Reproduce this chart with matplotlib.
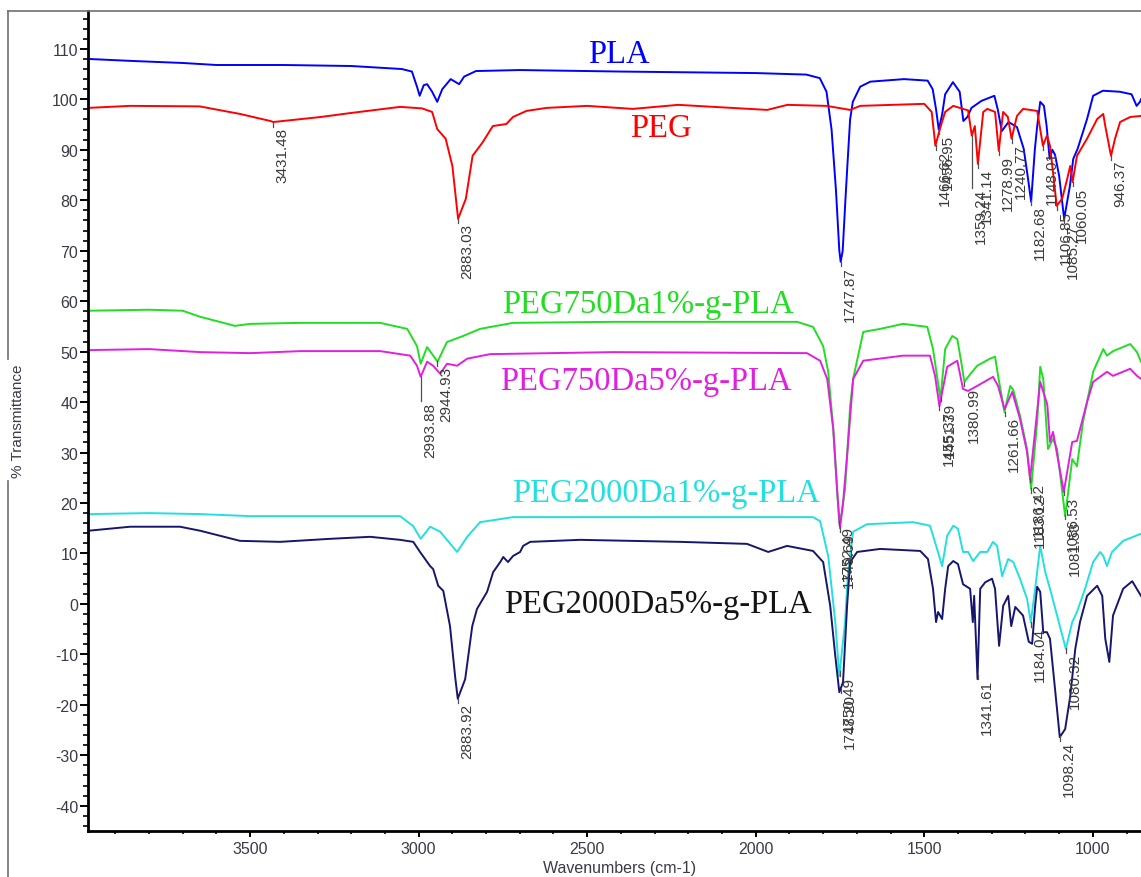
import numpy as np
import matplotlib
matplotlib.use("Agg")
import matplotlib.pyplot as plt
from matplotlib.ticker import MultipleLocator
from matplotlib.lines import Line2D
import matplotlib.transforms as mtrans

plt.rcParams["axes.unicode_minus"] = False

# ---------------- data (wavenumber cm-1, %T) ----------------
pla_wn = [3980, 3850, 3700, 3600, 3400, 3200, 3050, 3020, 3005, 2997, 2985, 2975, 2960, 2945, 2930,
          2905, 2880, 2865, 2830, 2700, 2400, 2000, 1850, 1810, 1790, 1775, 1762, 1752, 1748, 1742,
          1734, 1728, 1720, 1712, 1690, 1660, 1560, 1490, 1475, 1465, 1457, 1447, 1438, 1415, 1395,
          1384, 1372, 1360, 1330, 1292, 1282, 1270, 1250, 1225, 1205, 1192, 1183, 1172, 1165, 1156,
          1145, 1137, 1128, 1120, 1112, 1100, 1085, 1068, 1058, 1045, 1017, 999, 970, 920, 885, 870,
          860, 857]
pla_t = [108.0, 107.6, 107.2, 106.8, 106.8, 106.6, 106.0, 105.5, 102.5, 100.7, 102.8, 103.0, 101.5, 99.5,
         102.0, 104.0, 103.0, 104.5, 105.6, 105.8, 105.5, 105.2, 104.9, 104.2, 101.5, 94.0, 82.0, 70.0,
         67.8, 70.0, 80.0, 87.0, 96.0, 99.5, 102.5, 103.5, 104.0, 103.7, 102.0, 98.0, 94.0, 97.0, 101.0,
         103.4, 101.5, 95.7, 96.5, 98.3, 99.7, 100.7, 98.0, 93.7, 95.5, 94.5, 90.2, 84.2, 79.7, 90.0,
         94.7, 99.5, 98.7, 94.7, 88.2, 90.0, 89.0, 84.9, 76.3, 82.8, 88.2, 90.2, 96.1, 100.7, 101.7,
         101.5, 101.0, 98.7, 99.5, 100.0]

peg_wn = [3980, 3856, 3650, 3530, 3440, 3431, 3290, 3200, 3055, 2990, 2960, 2945, 2920, 2900, 2883,
          2860, 2840, 2810, 2780, 2740, 2720, 2680, 2620, 2500, 2365, 2230, 1966, 1906, 1790, 1720,
          1690, 1500, 1478, 1467, 1452, 1438, 1414, 1385, 1370, 1359, 1350, 1341, 1325, 1313, 1290,
          1279, 1266, 1252, 1241, 1225, 1207, 1165, 1148, 1136, 1127, 1107, 1091, 1076, 1067, 1060,
          1047, 1017, 987, 969, 963, 946, 934, 919, 889, 857]
peg_t = [98.3, 98.7, 98.6, 97.1, 95.7, 95.5, 96.5, 97.3, 98.5, 98.2, 97.5, 94.1, 92.2, 86.8, 76.3,
         80.3, 88.8, 91.5, 94.7, 95.1, 96.5, 97.7, 98.3, 98.7, 98.1, 98.9, 97.9, 98.9, 98.7, 97.9,
         98.7, 99.1, 97.5, 90.8, 94.5, 97.5, 98.7, 98.1, 97.8, 92.8, 94.7, 87.2, 97.5, 98.1, 97.5,
         89.8, 97.5, 96.5, 92.2, 96.7, 98.1, 97.7, 90.8, 92.8, 90.8, 78.9, 80.3, 84.2, 86.8, 83.6,
         88.8, 92.2, 96.1, 97.1, 94.7, 88.8, 92.2, 95.5, 96.5, 96.7]

g750_1_wn = [3980, 3800, 3700, 3648, 3545, 3500, 3350, 3114, 3034, 3005, 2994, 2975, 2960, 2944, 2916,
             2868, 2818, 2720, 2423, 1877, 1830, 1800, 1785, 1770, 1758, 1752, 1745, 1735, 1720, 1711,
             1681, 1631, 1563, 1491, 1474, 1452, 1438, 1417, 1402, 1388, 1381, 1364, 1343, 1305, 1290,
             1281, 1262, 1245, 1236, 1216, 1195, 1183, 1165, 1156, 1147, 1133, 1118, 1106, 1082, 1061,
             1047, 1029, 999, 969, 958, 940, 889, 869, 857]
g750_1_t = [58.1, 58.3, 58.1, 56.9, 55.1, 55.5, 55.7, 55.7, 54.5, 51.1, 47.6, 50.9, 49.5, 48.0, 51.9,
            53.1, 54.5, 55.7, 55.9, 55.9, 54.9, 51.1, 46.0, 34.7, 22.0, 16.0, 18.0, 22.8, 39.2, 44.6,
            53.9, 54.5, 55.5, 54.9, 50.5, 40.6, 50.5, 53.1, 52.5, 47.0, 44.0, 45.5, 47.2, 48.6, 49.0,
            45.2, 38.0, 43.2, 42.4, 37.3, 30.7, 22.8, 36.1, 47.0, 44.6, 30.7, 32.7, 30.7, 17.4, 28.7,
            27.3, 36.1, 46.0, 50.5, 49.2, 50.1, 51.5, 49.9, 48.0]

g750_5_wn = [3980, 3800, 3648, 3500, 3350, 3114, 3025, 3005, 2994, 2975, 2957, 2936, 2916, 2886, 2856,
             2788, 2423, 1848, 1809, 1788, 1770, 1758, 1750, 1741, 1729, 1711, 1681, 1563, 1483, 1468,
             1455, 1432, 1402, 1385, 1370, 1343, 1296, 1281, 1262, 1239, 1216, 1195, 1186, 1156, 1135,
             1127, 1118, 1086, 1061, 1047, 1017, 999, 958, 940, 889, 869, 857]
g750_5_t = [50.3, 50.5, 49.9, 49.7, 50.1, 50.1, 49.2, 47.2, 45.0, 48.0, 47.2, 45.6, 47.6, 47.2, 48.6,
            49.5, 49.9, 49.7, 48.2, 44.6, 34.7, 22.0, 15.0, 20.0, 29.3, 44.6, 48.2, 49.2, 49.2, 45.2,
            39.2, 47.0, 48.2, 42.6, 42.2, 43.2, 45.0, 43.2, 38.6, 42.0, 36.7, 30.1, 24.8, 44.0, 39.5,
            32.1, 34.1, 22.2, 32.1, 32.3, 40.0, 44.0, 46.0, 45.2, 46.6, 45.2, 44.6]

g2000_1_wn = [3980, 3800, 3648, 3500, 3055, 3016, 2994, 2966, 2936, 2886, 2856, 2818, 2720, 1830, 1809,
              1785, 1764, 1752, 1735, 1726, 1711, 1670, 1533, 1483, 1462, 1447, 1432, 1414, 1400, 1385,
              1370, 1355, 1334, 1313, 1296, 1284, 1269, 1251, 1236, 1216, 1195, 1184, 1171, 1156, 1141,
              1127, 1106, 1080, 1061, 1047, 1023, 999, 978, 969, 958, 943, 910, 857]
g2000_1_t = [17.8, 18.0, 17.8, 17.4, 17.4, 15.4, 12.9, 15.3, 14.3, 10.3, 13.3, 16.2, 17.2, 17.2, 16.4,
             9.5, -3.6, -14.3, -3.6, 6.3, 14.3, 15.8, 16.2, 15.5, 10.9, 7.5, 13.5, 15.5, 14.9, 10.3,
             10.3, 8.5, 10.3, 10.3, 12.3, 11.5, 5.5, 8.9, 8.3, 5.0, 1.0, -3.6, 3.0, 11.5, 6.3,
             3.0, -2.3, -8.9, -3.6, -1.6, 3.0, 8.3, 10.3, 9.5, 7.5, 10.3, 12.5, 13.9]

g2000_5_wn = [3980, 3856, 3708, 3648, 3530, 3411, 3263, 3144, 3055, 3016, 2996, 2966, 2957, 2942, 2927,
              2907, 2892, 2884, 2862, 2841, 2827, 2797, 2779, 2758, 2749, 2735, 2720, 2699, 2690, 2669,
              2521, 2224, 2026, 1963, 1907, 1830, 1800, 1779, 1764, 1752, 1741, 1729, 1720, 1699, 1631,
              1512, 1489, 1474, 1465, 1459, 1447, 1438, 1429, 1414, 1400, 1385, 1364, 1356, 1352, 1342,
              1334, 1319, 1299, 1290, 1278, 1266, 1251, 1242, 1230, 1207, 1190, 1180, 1171, 1165, 1156,
              1147, 1136, 1127, 1112, 1098, 1082, 1067, 1052, 1038, 1017, 987, 972, 963, 951, 940,
              910, 883, 857]
g2000_5_t = [14.5, 15.3, 15.3, 14.5, 12.5, 12.3, 12.9, 13.3, 12.7, 12.3, 10.3, 7.5, 6.9, 3.6, 2.6,
             -4.4, -14.3, -18.8, -14.9, -4.4, -1.0, 2.4, 6.3, 8.3, 9.3, 8.3, 9.5, 10.3, 11.5, 12.3,
             12.7, 12.3, 11.9, 10.3, 11.5, 10.5, 8.3, -0.4, -10.3, -17.5, -15.5, -0.4, 8.3, 10.3, 10.9,
             10.5, 8.9, 3.0, -3.6, -1.6, -3.0, 3.0, 7.5, 8.5, 7.9, 3.9, 3.0, -3.6, 1.6, -14.9,
             3.0, 4.3, 5.0, 3.0, -8.3, -0.4, 1.6, -4.4, -0.6, -2.3, -7.5, -7.9, -0.4, 3.4, 2.4,
             -5.6, -5.6, -6.9, -16.9, -26.4, -24.8, -18.3, -8.9, -3.6, 1.6, 3.6, 1.6, -6.9, -11.5, -2.3,
             3.0, 4.5, 1.6]

series_names = ["PLA", "PEG", "PEG750Da1%-g-PLA", "PEG750Da5%-g-PLA",
                "PEG2000Da1%-g-PLA", "PEG2000Da5%-g-PLA"]
series_wn = [pla_wn, peg_wn, g750_1_wn, g750_5_wn, g2000_1_wn, g2000_5_wn]
series_t = [pla_t, peg_t, g750_1_t, g750_5_t, g2000_1_t, g2000_5_t]

# peak labels per series (wavenumbers)
peak_labels = {
    "PLA": [1747.87, 1456.95, 1182.68, 1085.27],
    "PEG": [3431.48, 2883.03, 1466.62, 1359.24, 1341.14, 1278.99, 1240.77, 1148.01,
            1106.85, 1060.05, 946.37],
    "PEG750Da1%-g-PLA": [2944.93, 1752.49, 1451.39, 1380.99, 1261.66, 1183.12, 1081.53],
    "PEG750Da5%-g-PLA": [2993.88, 1749.69, 1455.37, 1186.42, 1086.53],
    "PEG2000Da1%-g-PLA": [1750.49, 1184.04, 1080.32],
    "PEG2000Da5%-g-PLA": [2883.92, 1748.20, 1341.61, 1098.24],
}
extra_drop = {1359.24: 9.5, 2993.88: 4.0}

# ---------------- styling ----------------
colors = ["#0000ff", "#ff0000", "#22dd22", "#e020e0", "#22e0e0", "#16166e"]
label_colors = ["#0000ff", "#ff0000", "#22dd22", "#e020e0", "#22e0e0", "#141414"]
# name label anchors (wavenumber, %T baseline)
name_pos = [(2405, 107.4), (2281, 92.75), (2319, 57.9), (2325, 42.6), (2266, 20.4), (2290, -1.6)]

W, H = 1141, 878
fig = plt.figure(figsize=(W / 100, H / 100), dpi=100)
ax = fig.add_axes([88 / W, 1 - 832 / H, 1 - 88 / W, (832 - 12) / H])
ax.set_xlim(3981, 857)
ax.set_ylim(-45, 117.5)

for wn, t, c in zip(series_wn, series_t, colors):
    ax.plot(wn, t, color=c, lw=1.4)

for name, (xp, yp), c in zip(series_names, name_pos, label_colors):
    ax.text(xp, yp, name, color=c, fontsize=23.5, family="Liberation Serif",
            ha="center", va="baseline")

lab_trans = mtrans.offset_copy(ax.transData, fig=fig, x=1.5, y=0, units="points")
for name, wn, t in zip(series_names, series_wn, series_t):
    xs = np.array(wn, dtype=float)[::-1]
    ys = np.array(t, dtype=float)[::-1]
    for pk in peak_labels[name]:
        y0 = float(np.interp(pk, xs, ys))
        ytop = y0 - 0.9 - extra_drop.get(pk, 0.0)
        ax.plot([pk, pk], [y0, ytop], color="#505050", lw=0.9)
        ax.text(pk, ytop, f"{pk:.2f}", transform=lab_trans, rotation=90,
                ha="left", va="top", fontsize=11, color="#3a3a3a",
                family="Liberation Sans")

# axes styling
for s in ["top", "right"]:
    ax.spines[s].set_visible(False)
for s in ["left", "bottom"]:
    ax.spines[s].set_linewidth(2.0)
ax.xaxis.set_major_locator(MultipleLocator(500))
ax.xaxis.set_minor_locator(MultipleLocator(100))
ax.yaxis.set_major_locator(MultipleLocator(10))
ax.yaxis.set_minor_locator(MultipleLocator(2))
ax.tick_params(axis="y", which="major", direction="out", length=6, width=1.4, pad=1,
               labelsize=11.5, labelcolor="#3a3a48")
ax.tick_params(axis="y", which="minor", direction="out", length=3.5, width=1.2)
ax.tick_params(axis="x", which="major", direction="out", length=4, width=1.4, pad=3,
               labelsize=11.5, labelcolor="#3a3a48")
ax.tick_params(axis="x", which="minor", direction="out", length=2.5, width=1.2)
for lab in ax.get_xticklabels() + ax.get_yticklabels():
    lab.set_family("Liberation Sans")

# outer frame with gap for the y label
fx = 8 / W
fig.add_artist(Line2D([fx, 1.0], [1 - 11.5 / H, 1 - 11.5 / H], transform=fig.transFigure,
                      color="#707070", lw=1.2))
fig.add_artist(Line2D([fx, fx], [1 - 360 / H, 1 - 11.5 / H], transform=fig.transFigure,
                      color="#707070", lw=1.2))
fig.add_artist(Line2D([fx, fx], [0, 1 - 482 / H], transform=fig.transFigure,
                      color="#707070", lw=1.2))
fig.text(18 / W, 1 - 421 / H, "% Transmittance", rotation=90, ha="center", va="center",
         fontsize=11, color="#3a3a48", family="Liberation Sans")
fig.text(620 / W, 1 - 869 / H, "Wavenumbers (cm-1)", ha="center", va="center",
         fontsize=11.5, color="#3a3a48", family="Liberation Sans")

fig.savefig("out.png", dpi=100)
